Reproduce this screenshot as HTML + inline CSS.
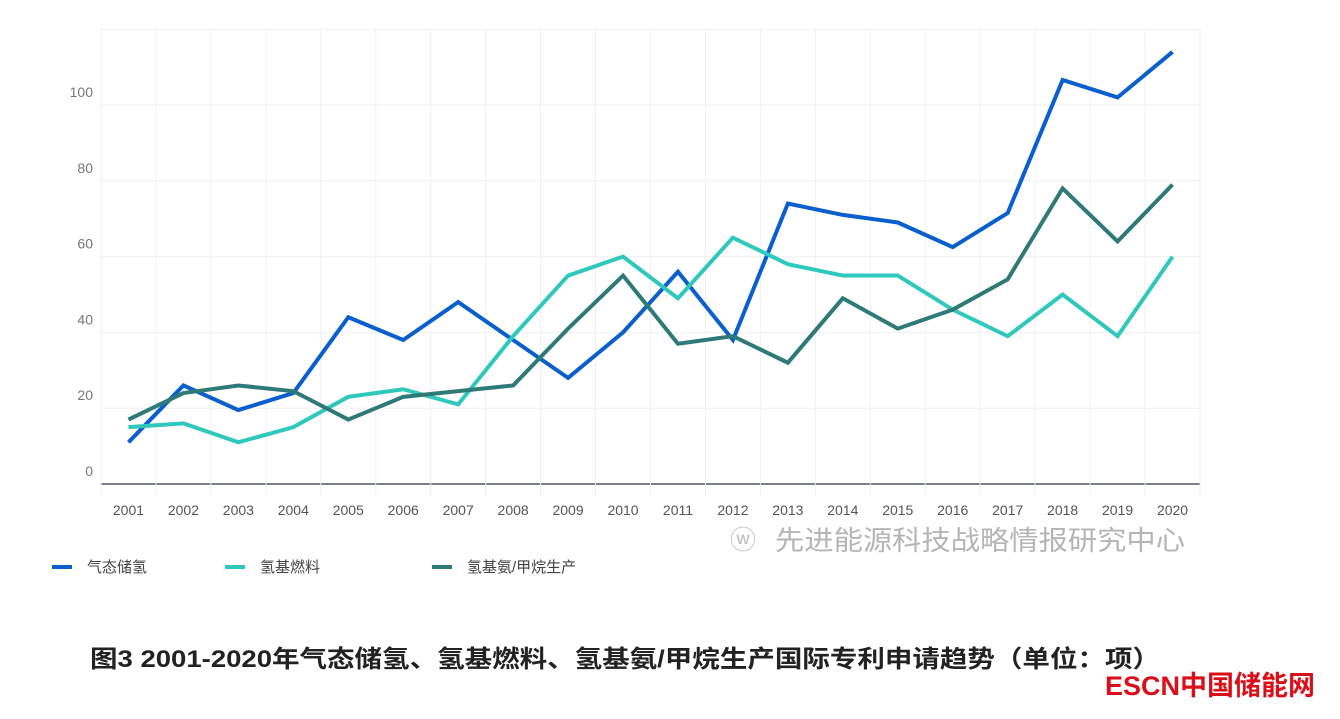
<!DOCTYPE html>
<html><head><meta charset="utf-8"><style>
body{margin:0;background:#fff;width:1340px;height:714px;overflow:hidden;font-family:"Liberation Sans","Noto Sans CJK SC",sans-serif}
</style></head><body>
<svg id="chart" width="1340" height="714" xmlns="http://www.w3.org/2000/svg"></svg>
<script>
const years=["2001","2002","2003","2004","2005","2006","2007","2008","2009","2010","2011","2012","2013","2014","2015","2016","2017","2018","2019","2020"];
const gasStorage=[11,26,19.5,24,44,38,48,38,28,40,56,38,74,71,69,62.5,71.5,106.6,102,114];
const h2Fuel=[15,16,11,15,23,25,21,39,55,60,49,65,58,55,55,46,39,50,39,60];
const ammoniaMethane=[17,24,26,24.5,17,23,24.5,26,41,55,37,39,32,49,41,46,54,78,64,79];
const yTicks=[0,20,40,60,80,100];
const seriesNames=["气态储氢","氢基燃料","氢基氨/甲烷生产"];
const colors=["#0a5fcf","#2ec9bc","#2e7a76"];
const NS="http://www.w3.org/2000/svg";
const svg=document.getElementById('chart');
const x0=101,x1=1200,yBase=484,perUnit=75.8/20;
const step=(x1-x0)/years.length;
const xs=i=>x0+step*(i+0.5);
const ys=v=>yBase-v*perUnit;
function mk(t,a,p){const e=document.createElementNS(NS,t);for(const k in a)e.setAttribute(k,a[k]);(p||svg).appendChild(e);return e;}
[...yTicks,120].forEach(v=>{
 const l=mk('line',{x1:x0,x2:x1,y1:ys(v),y2:ys(v),stroke:v===0?'#7a7f88':'#eef0f2','stroke-width':v===0?2:1});
 
 
});
yTicks.forEach(v=>{
 const t=mk('text',{x:93,y:ys(v)-8,'text-anchor':'end','font-size':14,fill:'#777'});t.textContent=v;
 
 
});
for(let i=0;i<=years.length;i++){
 const x=x0+step*i;
 const l=mk('line',{x1:x,x2:x,y1:ys(120),y2:496,stroke:'#eef0f2','stroke-width':1});
 
 
}
years.forEach((y,i)=>{
 const t=mk('text',{x:xs(i),y:515,'text-anchor':'middle','font-size':14,fill:'#555'});t.textContent=y;
 
 
});
[gasStorage,h2Fuel,ammoniaMethane].forEach((s,k)=>{
 const p=mk('polyline',{points:s.map((v,i)=>xs(i)+','+ys(v)).join(' '),fill:'none',stroke:colors[k],'stroke-width':4,'stroke-linejoin':'miter'});
 
 
});
const lx=[52,225,432];
seriesNames.forEach((n,k)=>{
 const g=mk('g',{});
 
 
 mk('rect',{x:lx[k],y:565,width:20,height:4,fill:colors[k]},g);
 const t=mk('text',{x:lx[k]+35,y:572,'font-size':15,fill:'#444'},g);t.textContent=n;
});
const w=mk('text',{x:775,y:550,'font-size':27,fill:'#b5b5b5',textLength:410,lengthAdjust:'spacingAndGlyphs'});w.textContent="先进能源科技战略情报研究中心";


const wi=mk('text',{x:730,y:549,'font-size':26,fill:'#c0c0c0'});wi.textContent="ⓦ";


const ti=mk('text',{x:90,y:667,'font-size':24,'font-weight':'bold',fill:'#222',textLength:1070,lengthAdjust:'spacingAndGlyphs'});ti.textContent="图3 2001-2020年气态储氢、氢基燃料、氢基氨/甲烷生产国际专利申请趋势（单位：项）";


const lg=mk('text',{x:1105,y:695,'font-size':27,'font-weight':'bold',fill:'#d9101a',textLength:210,lengthAdjust:'spacingAndGlyphs'});lg.textContent="ESCN中国储能网";


</script>
</body></html>
